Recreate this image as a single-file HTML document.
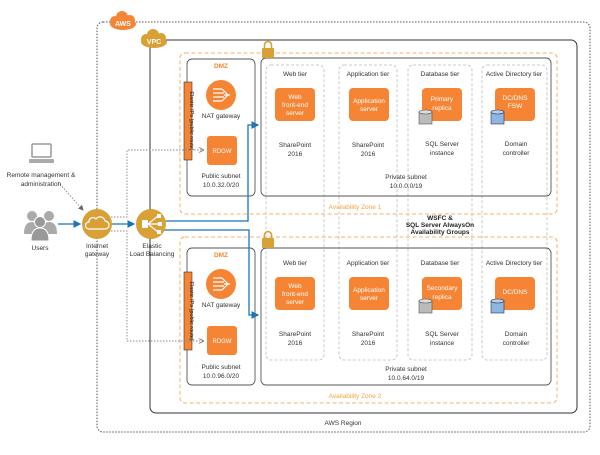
<!DOCTYPE html>
<html><head><meta charset="utf-8"><style>
body{margin:0;background:#fff;}
svg text{font-family:"Liberation Sans",sans-serif;font-size:6.5px;fill:#333;}
</style></head><body>
<svg width="600" height="450" viewBox="0 0 600 450" xmlns="http://www.w3.org/2000/svg">
<defs>
<marker id="ab" markerWidth="6" markerHeight="6" refX="5" refY="3" orient="auto"><path d="M0,0 L6,3 L0,6z" fill="#1a75bc"/></marker>
<marker id="ag" markerWidth="6" markerHeight="6" refX="5" refY="3" orient="auto"><path d="M0,0 L6,3 L0,6" fill="none" stroke="#777" stroke-width="1"/></marker>
<marker id="ag2" markerWidth="6" markerHeight="6" refX="5" refY="3" orient="auto"><path d="M0,0 L6,3 L0,6z" fill="#666"/></marker>
</defs>
<!-- AWS region -->
<rect x="97" y="22" width="493" height="410" rx="6" fill="none" stroke="#555" stroke-width="1" stroke-dasharray="1.5,1.5"/>
<text x="343" y="425" text-anchor="middle">AWS Region</text>
<!-- VPC -->
<rect x="150" y="40" width="427" height="373" rx="6" fill="none" stroke="#333" stroke-width="1"/>
<!-- AWS cloud -->
<g><ellipse cx="123" cy="24" rx="13" ry="6" fill="#f58534"/><circle cx="122" cy="17" r="6" fill="#f58534"/><circle cx="115" cy="21" r="5" fill="#f58534"/><circle cx="130" cy="20" r="5" fill="#f58534"/>
<text x="123" y="26" text-anchor="middle" style="fill:#fff;font-weight:bold;font-size:7px">AWS</text></g>
<g><ellipse cx="154" cy="42" rx="13" ry="6" fill="#d9a036"/><circle cx="153" cy="35" r="6" fill="#d9a036"/><circle cx="146" cy="39" r="5" fill="#d9a036"/><circle cx="161" cy="38" r="5" fill="#d9a036"/>
<text x="154" y="44" text-anchor="middle" style="fill:#fff;font-weight:bold;font-size:7px">VPC</text></g>
<!-- tier columns -->
<g fill="none" stroke="#bbb" stroke-width="0.8" stroke-dasharray="3,2">
<rect x="266" y="65" width="58" height="295" rx="5"/>
<rect x="339" y="65" width="58" height="295" rx="5"/>
<rect x="408" y="65" width="64" height="295" rx="5"/>
<rect x="482" y="65" width="65" height="295" rx="5"/>
</g>
<!-- AZs -->
<g fill="none" stroke="#f8b26a" stroke-width="1" stroke-dasharray="4,2.5">
<rect x="180" y="53" width="377" height="161" rx="5"/>
<rect x="180" y="237" width="377" height="166" rx="5"/>
</g>
<text x="355" y="209" text-anchor="middle" style="fill:#f5a33f">Availability Zone 1</text>
<text x="355" y="398" text-anchor="middle" style="fill:#f5a33f">Availability Zone 2</text>
<text x="440" y="220" text-anchor="middle" style="font-weight:bold;fill:#222">WSFC &amp;</text>
<text x="440" y="227" text-anchor="middle" style="font-weight:bold;fill:#222">SQL Server AlwaysOn</text>
<text x="440" y="234" text-anchor="middle" style="font-weight:bold;fill:#222">Availability Groups</text>
<!-- DMZ & private subnets -->
<g fill="none" stroke="#555" stroke-width="0.9">
<rect x="187" y="59" width="68" height="137" rx="5"/>
<rect x="187" y="248" width="68" height="137" rx="5"/>
<rect x="261" y="58" width="290" height="138" rx="5"/>
<rect x="261" y="248" width="290" height="137" rx="5"/>
</g>
<!-- locks -->
<g fill="#d9a036"><rect x="262" y="48" width="12" height="10" rx="1"/><path d="M264.5,48 v-3 a3.5,3.5 0 0 1 7,0 v3" fill="none" stroke="#d9a036" stroke-width="1.6"/>
<rect x="262" y="238" width="12" height="10" rx="1"/><path d="M264.5,238 v-3 a3.5,3.5 0 0 1 7,0 v3" fill="none" stroke="#d9a036" stroke-width="1.6"/></g>
<!-- DMZ contents -->
<g id="dmz1">
<text x="221" y="68" text-anchor="middle" style="fill:#f58534;font-weight:bold">DMZ</text>
<circle cx="221" cy="95" r="15" fill="#f58534"/>
<path d="M213,89 h9 M213,93 h11 M213,97 h11 M213,101 h9 M222,89 l6,6 M222,101 l6,-6 M224,95 h6" stroke="#fff" stroke-width="1.2" fill="none"/>
<text x="221" y="118" text-anchor="middle">NAT gateway</text>
<rect x="207" y="136" width="30" height="29" rx="3" fill="#f58534"/>
<text x="222" y="153" text-anchor="middle" style="fill:#fff;font-size:6px">RDGW</text>
<text x="221" y="178" text-anchor="middle">Public subnet</text>
<text x="221" y="187" text-anchor="middle">10.0.32.0/20</text>
<rect x="184" y="82" width="8" height="78" fill="#f58534" stroke="#333" stroke-width="0.6"/>
<text transform="translate(190,121) rotate(90)" text-anchor="middle" style="font-size:5.5px;fill:#222">Elastic IPs (public route)</text>
</g>
<g>
<text x="221" y="257" text-anchor="middle" style="fill:#f58534;font-weight:bold">DMZ</text>
<circle cx="221" cy="284" r="15" fill="#f58534"/>
<path d="M213,278 h9 M213,282 h11 M213,286 h11 M213,290 h9 M222,278 l6,6 M222,290 l6,-6 M224,284 h6" stroke="#fff" stroke-width="1.2" fill="none"/>
<text x="221" y="307" text-anchor="middle">NAT gateway</text>
<rect x="207" y="326" width="30" height="29" rx="3" fill="#f58534"/>
<text x="222" y="343" text-anchor="middle" style="fill:#fff;font-size:6px">RDGW</text>
<text x="221" y="369" text-anchor="middle">Public subnet</text>
<text x="221" y="378" text-anchor="middle">10.0.96.0/20</text>
<rect x="184" y="272" width="8" height="78" fill="#f58534" stroke="#333" stroke-width="0.6"/>
<text transform="translate(190,311) rotate(90)" text-anchor="middle" style="font-size:5.5px;fill:#222">Elastic IPs (public route)</text>
</g>
<!-- tiers AZ1 -->
<g>
<text x="295" y="76" text-anchor="middle">Web tier</text>
<text x="368" y="76" text-anchor="middle">Application tier</text>
<text x="440" y="76" text-anchor="middle">Database tier</text>
<text x="514" y="76" text-anchor="middle">Active Directory tier</text>
<rect x="275" y="88" width="40" height="33" rx="4" fill="#f58534"/>
<text x="295" y="99" text-anchor="middle" style="fill:#fff">Web</text><text x="295" y="107" text-anchor="middle" style="fill:#fff">front-end</text><text x="295" y="115" text-anchor="middle" style="fill:#fff">server</text>
<rect x="349" y="88" width="40" height="33" rx="4" fill="#f58534"/>
<text x="369" y="103" text-anchor="middle" style="fill:#fff">Application</text><text x="369" y="111" text-anchor="middle" style="fill:#fff">server</text>
<rect x="422" y="88" width="40" height="33" rx="4" fill="#f58534"/>
<text x="442" y="101" text-anchor="middle" style="fill:#fff">Primary</text><text x="442" y="110" text-anchor="middle" style="fill:#fff">replica</text>
<rect x="495" y="88" width="40" height="33" rx="4" fill="#f58534"/>
<text x="515" y="100" text-anchor="middle" style="fill:#fff">DC/DNS</text><text x="515" y="108" text-anchor="middle" style="fill:#fff">FSW</text>
<rect x="419" y="112" width="13" height="12" fill="#bbb" stroke="#555" stroke-width="0.6"/><ellipse cx="425.5" cy="112" rx="6.5" ry="2" fill="#ddd" stroke="#555" stroke-width="0.6"/>
<rect x="491" y="112" width="13" height="12" fill="#8db6e0" stroke="#335" stroke-width="0.6"/><ellipse cx="497.5" cy="112" rx="6.5" ry="2" fill="#b5d0ee" stroke="#335" stroke-width="0.6"/>
<text x="295" y="147" text-anchor="middle">SharePoint</text><text x="295" y="156" text-anchor="middle">2016</text>
<text x="368" y="147" text-anchor="middle">SharePoint</text><text x="368" y="156" text-anchor="middle">2016</text>
<text x="442" y="146" text-anchor="middle">SQL Server</text><text x="442" y="155" text-anchor="middle">instance</text>
<text x="516" y="146" text-anchor="middle">Domain</text><text x="516" y="155" text-anchor="middle">controller</text>
<text x="406" y="179" text-anchor="middle">Private subnet</text><text x="406" y="188" text-anchor="middle">10.0.0.0/19</text>
</g>
<!-- tiers AZ2 -->
<g>
<text x="295" y="265" text-anchor="middle">Web tier</text>
<text x="368" y="265" text-anchor="middle">Application tier</text>
<text x="440" y="265" text-anchor="middle">Database tier</text>
<text x="514" y="265" text-anchor="middle">Active Directory tier</text>
<rect x="275" y="277" width="40" height="33" rx="4" fill="#f58534"/>
<text x="295" y="288" text-anchor="middle" style="fill:#fff">Web</text><text x="295" y="296" text-anchor="middle" style="fill:#fff">front-end</text><text x="295" y="304" text-anchor="middle" style="fill:#fff">server</text>
<rect x="349" y="277" width="40" height="33" rx="4" fill="#f58534"/>
<text x="369" y="292" text-anchor="middle" style="fill:#fff">Application</text><text x="369" y="300" text-anchor="middle" style="fill:#fff">server</text>
<rect x="422" y="277" width="40" height="33" rx="4" fill="#f58534"/>
<text x="442" y="290" text-anchor="middle" style="fill:#fff">Secondary</text><text x="442" y="299" text-anchor="middle" style="fill:#fff">replica</text>
<rect x="495" y="277" width="40" height="33" rx="4" fill="#f58534"/>
<text x="515" y="294" text-anchor="middle" style="fill:#fff">DC/DNS</text>
<rect x="419" y="301" width="13" height="12" fill="#bbb" stroke="#555" stroke-width="0.6"/><ellipse cx="425.5" cy="301" rx="6.5" ry="2" fill="#ddd" stroke="#555" stroke-width="0.6"/>
<rect x="491" y="301" width="13" height="12" fill="#8db6e0" stroke="#335" stroke-width="0.6"/><ellipse cx="497.5" cy="301" rx="6.5" ry="2" fill="#b5d0ee" stroke="#335" stroke-width="0.6"/>
<text x="295" y="336" text-anchor="middle">SharePoint</text><text x="295" y="345" text-anchor="middle">2016</text>
<text x="368" y="336" text-anchor="middle">SharePoint</text><text x="368" y="345" text-anchor="middle">2016</text>
<text x="442" y="336" text-anchor="middle">SQL Server</text><text x="442" y="345" text-anchor="middle">instance</text>
<text x="516" y="336" text-anchor="middle">Domain</text><text x="516" y="345" text-anchor="middle">controller</text>
<text x="406" y="371" text-anchor="middle">Private subnet</text><text x="406" y="380" text-anchor="middle">10.0.64.0/19</text>
</g>
<!-- connectors -->
<g fill="none" stroke="#888" stroke-width="0.9" stroke-dasharray="1.5,1.5">
<path d="M111,217 H127 V150 H203" marker-end="url(#ag)"/>
<path d="M111,231 H127 V341 H203" marker-end="url(#ag)"/>
<path d="M58,182 L83,210" marker-end="url(#ag2)"/>
</g>
<g fill="none" stroke="#1a75bc" stroke-width="1.3">
<path d="M58,224 H80" marker-end="url(#ab)"/>
<path d="M112,224 H134" marker-end="url(#ab)"/>
<path d="M164,221 H248 V125 H258" marker-end="url(#ab)"/>
<path d="M164,230 H249 V315 H258" marker-end="url(#ab)"/>
</g>
<!-- laptop -->
<rect x="32" y="144" width="19" height="13" rx="1" fill="#fff" stroke="#999" stroke-width="1.5"/>
<rect x="29" y="159" width="25" height="4" rx="1" fill="#aaa"/>
<text x="41" y="177" text-anchor="middle">Remote management &amp;</text>
<text x="41" y="186" text-anchor="middle">administration</text>
<!-- users -->
<g fill="#aaa"><circle cx="32" cy="216" r="5"/><circle cx="49" cy="216" r="5"/><path d="M24,234 q0,-12 8,-12 q8,0 8,12z"/><path d="M41,234 q0,-12 8,-12 q8,0 8,12z"/>
<circle cx="40" cy="222" r="5.5" fill="#999" stroke="#fff"/><path d="M31,241 q0,-13 9,-13 q9,0 9,13z" fill="#999" stroke="#fff"/></g>
<text x="40" y="250" text-anchor="middle">Users</text>
<!-- IGW -->
<circle cx="97" cy="224" r="15" fill="#d9a036"/>
<path d="M89,229 h16 a4,4 0 0 0 0,-8 a5,5 0 0 0 -9,-2 a4,4 0 0 0 -7,3 a3.5,3.5 0 0 0 0,7z" fill="none" stroke="#fff" stroke-width="1.2"/>
<text x="97" y="248" text-anchor="middle">Internet</text><text x="97" y="256" text-anchor="middle">gateway</text>
<!-- ELB -->
<circle cx="151" cy="224" r="15" fill="#d9a036"/>
<rect x="142" y="220" width="6" height="8" fill="#fff"/>
<path d="M148,224 L158,216 M148,224 H159 M148,224 L158,232" stroke="#fff" stroke-width="1.2"/>
<rect x="157" y="214" width="4" height="4" fill="#fff"/><rect x="158" y="222" width="4" height="4" fill="#fff"/><rect x="157" y="230" width="4" height="4" fill="#fff"/>
<text x="152" y="248" text-anchor="middle">Elastic</text><text x="152" y="256" text-anchor="middle">Load Balancing</text>
</svg>
</body></html>
